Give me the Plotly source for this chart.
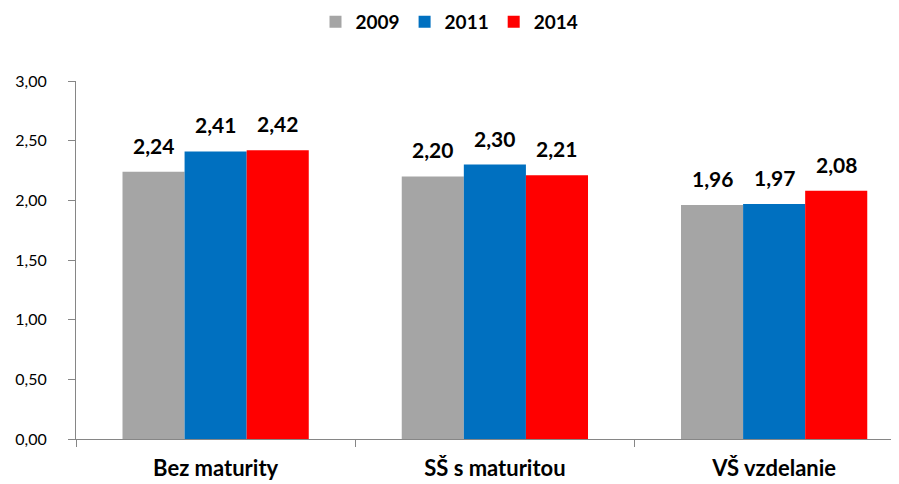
import plotly.graph_objects as go

categories = ['Bez maturity', 'SŠ s maturitou', 'VŠ vzdelanie']
years = ['2009', '2011', '2014']
values_2009 = [2.24, 2.20, 1.96]
values_2011 = [2.41, 2.30, 1.97]
values_2014 = [2.42, 2.21, 2.08]
colors = ['#A5A5A5', '#0070C0', '#FF0000']

font = 'Lato, Open Sans, sans-serif'
W, H = 899, 484
# page has an 8px body margin, so shift margins to compensate
ml, mr, mt, mb = 68, 10, 73, 53
bargap = 0.333
xrange_ = [-0.5, 2.44]

fig = go.Figure()
series = [values_2009, values_2011, values_2014]
for year, vals, col in zip(years, series, colors):
    fig.add_trace(go.Bar(x=categories, y=vals, name=year, marker_color=col,
                         marker_line_width=0))

# value labels above bars
cat_px = (W - ml - mr) / (xrange_[1] - xrange_[0])
bar_px = cat_px * (1 - bargap) / len(series)
for i, vals in enumerate(series):
    for cat, v in zip(categories, vals):
        fig.add_annotation(x=cat, y=v, text=f'{v:.2f}'.replace('.', ','),
                           showarrow=False, yanchor='bottom', yshift=12,
                           xshift=(i - 1) * bar_px,
                           font=dict(family=font, size=21, color='black', weight='bold'))

fig.update_layout(
    width=W, height=H,
    margin=dict(l=ml, r=mr, t=mt, b=mb, autoexpand=False),
    plot_bgcolor='white', paper_bgcolor='white',
    separators=',.',
    bargap=bargap, bargroupgap=0,
    font=dict(family=font, color='black'),
    legend=dict(orientation='h', x=(W / 2 - 8) / W, xref='container', xanchor='center',
                y=1 - 14 / H, yref='container', yanchor='middle', itemwidth=30,
                traceorder='normal',
                font=dict(family=font, size=19, weight='bold')),
)
fig.update_xaxes(range=xrange_, showline=True, linecolor='#868686', linewidth=1,
                 ticks='outside', tickson='boundaries', ticklen=7, tickcolor='#868686',
                 tickfont=dict(family=font, size=22, weight='bold'), showgrid=False,
                 ticklabelstandoff=10, automargin=False)
fig.update_yaxes(range=[0, 3], dtick=0.5, tickformat='.2f', showline=True,
                 linecolor='#868686', linewidth=1, ticks='outside', ticklen=7,
                 tickcolor='#868686', showgrid=False, zeroline=False,
                 tickfont=dict(family=font, size=16), ticklabelstandoff=18,
                 automargin=False)

fig.write_html('out.html')
